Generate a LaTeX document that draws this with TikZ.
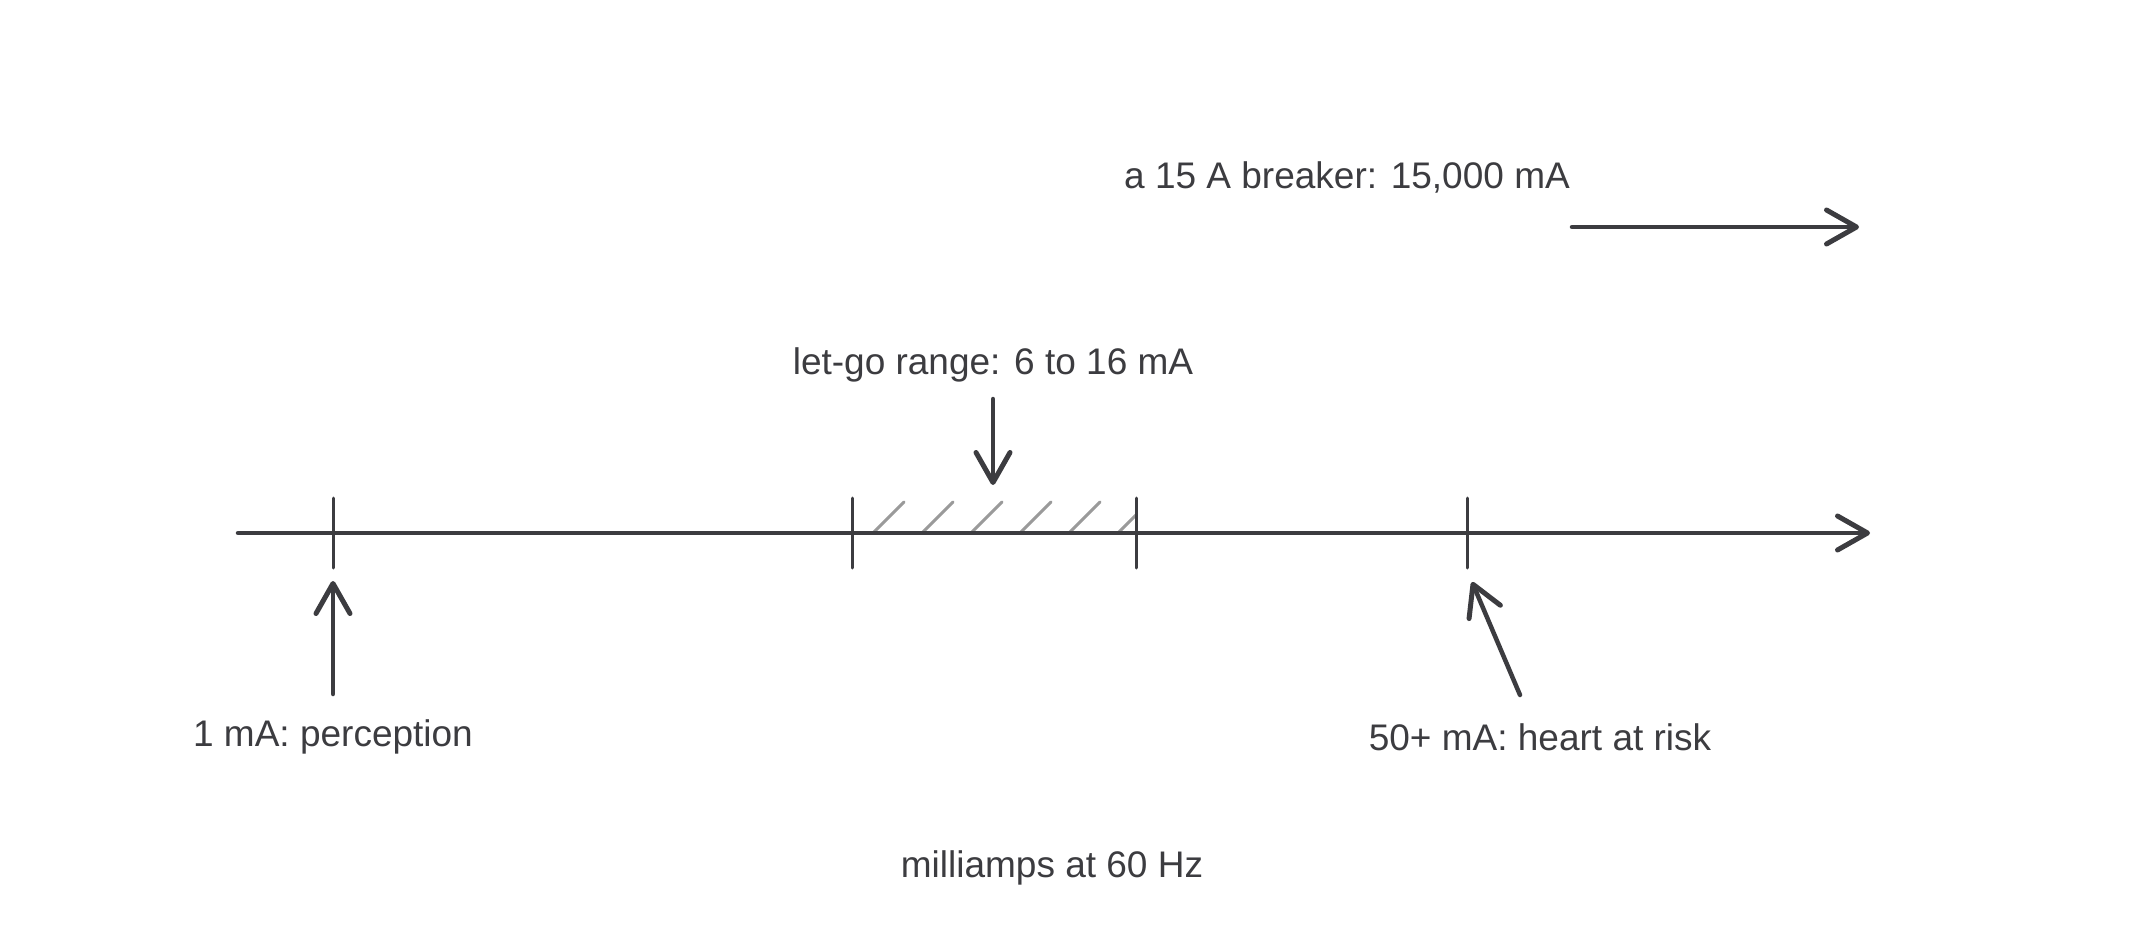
\documentclass[tikz,border=0pt]{standalone}
\usepackage{fontspec}
\setmainfont{Liberation Sans}
\usetikzlibrary{arrows.meta}
\definecolor{ink}{HTML}{3C3C40}
\definecolor{hatch}{HTML}{9A9A9A}
\tikzset{
  lbl/.style={inner sep=0pt, text=ink, font=\fontsize{37}{41}\selectfont},
  ptr/.style={draw=ink, line width=4.5pt, line cap=round, -{Straight Barb[length=30pt, width=34pt, line width=5pt, line cap=round, line join=round]}},
  tick/.style={draw=ink, line width=3pt, line cap=round},
  hatchline/.style={draw=hatch, line width=3pt, line cap=round},
}
\begin{document}
\begin{tikzpicture}[x=1pt,y=-1pt]
\path[use as bounding box, fill=white] (0,0) rectangle (2133,933);
% axis
\coordinate (axL) at (238,533);
\coordinate (axR) at (1870,533);
% hatching
\foreach \i in {0,...,4} {
  \draw[hatchline] ({874+\i*49},532) -- ({904+\i*49},502);
}
\draw[hatchline] (1119,532) -- (1136,515);
\draw[ptr] (axL) -- (axR);
% ticks
\coordinate (t1) at (333,533);
\coordinate (t2) at (852,533);
\coordinate (t3) at (1136,533);
\coordinate (t4) at (1467,533);
\foreach \t in {t1,t2,t3,t4} {
  \draw[tick] ([yshift=-35pt]\t) -- ([yshift=35pt]\t);
}
% labels
\node[lbl] (letgo) at (993,365) {let-go range: 6 to 16 mA};
\node[lbl] (breaker) at (1347,177) {a 15 A breaker: 15,000 mA};
\node[lbl] (percep) at (333,737) {1 mA: perception};
\node[lbl] (heart) at (1540,737) {50+ mA: heart at risk};
\node[lbl] (units) at (1052,868) {milliamps at 60 Hz};
% arrows
\coordinate (dA) at (993,399);
\coordinate (dB) at (993,485);
\draw[ptr] (dA) -- (dB);
\coordinate (pA) at (333,694);
\coordinate (pB) at (333,581);
\draw[ptr] (pA) -- (pB);
\coordinate (hA) at (1520,695);
\coordinate (hB) at (1472,582);
\draw[ptr] (hA) -- (hB);
\coordinate (bA) at (1572,227);
\coordinate (bB) at (1859,227);
\draw[ptr] (bA) -- (bB);
\end{tikzpicture}
\end{document}
